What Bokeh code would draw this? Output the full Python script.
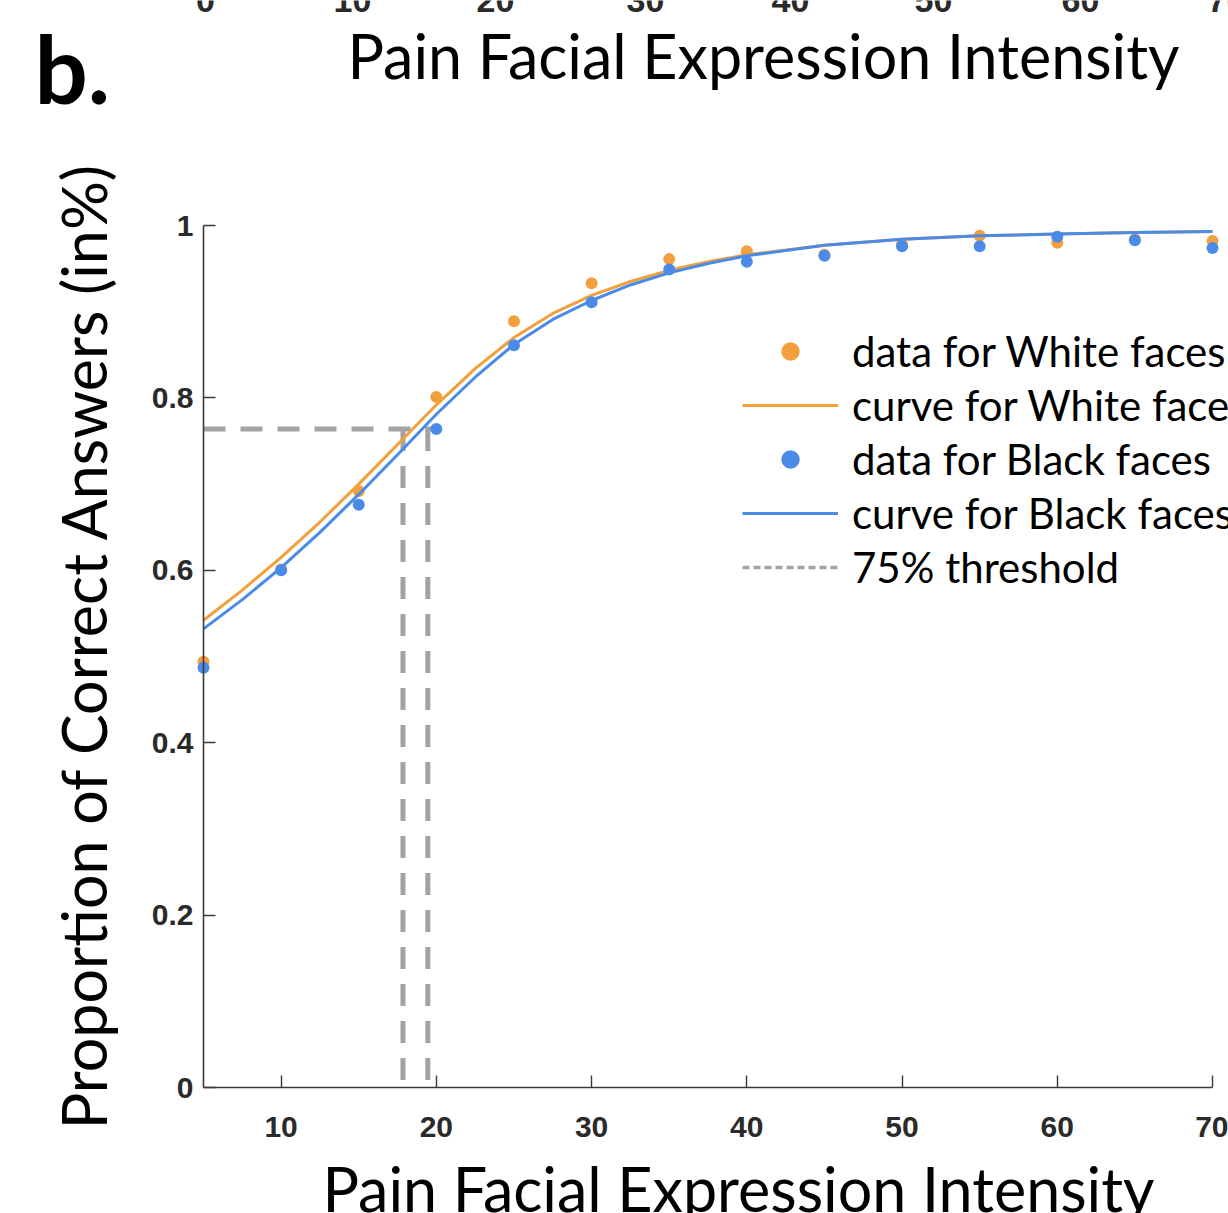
import math
from bokeh.plotting import figure
from bokeh.models import Range1d, FixedTicker, Legend, LegendItem, Label
from bokeh.embed import file_html
from bokeh.resources import INLINE

# ---------------- data ----------------
intensity = [5, 10, 15, 20, 25, 30, 35, 40, 45, 50, 55, 60, 65, 70]
white_data = [0.494, 0.601, 0.692, 0.801, 0.889, 0.933, 0.961, 0.970, 0.966, 0.978, 0.988, 0.980, 0.984, 0.982]
black_data = [0.487, 0.600, 0.676, 0.764, 0.861, 0.911, 0.949, 0.958, 0.965, 0.976, 0.976, 0.987, 0.983, 0.974]

curve_x = [5, 7.5, 10, 12.5, 15, 17.5, 20, 22.5, 25, 27.5, 30, 32.5, 35, 37.5, 40, 45, 50, 55, 60, 65, 70]
white_curve = [0.542, 0.577, 0.615, 0.656, 0.700, 0.746, 0.792, 0.834, 0.870, 0.898, 0.919, 0.935, 0.948,
               0.958, 0.966, 0.977, 0.984, 0.988, 0.990, 0.992, 0.993]
black_curve = [0.532, 0.566, 0.603, 0.644, 0.688, 0.734, 0.781, 0.824, 0.862, 0.891, 0.913, 0.931, 0.945,
               0.956, 0.965, 0.977, 0.984, 0.988, 0.990, 0.992, 0.993]

threshold_level = 0.764
thresholds = [17.85, 19.45]
threshold_h_end = 20.3

x_ticks = [10, 20, 30, 40, 50, 60, 70]
y_ticks = [0, 0.2, 0.4, 0.6, 0.8, 1]
y_tick_labels = {0: "0", 0.2: "0.2", 0.4: "0.4", 0.6: "0.6", 0.8: "0.8", 1: "1"}
prev_panel_ticks = ["0", "10", "20", "30", "40", "50", "60", "70"]

legend_labels = ["data for White faces", "curve for White faces",
                 "data for Black faces", "curve for Black faces", "75% threshold"]
title_text = "Pain Facial Expression Intensity"
x_label = "Pain Facial Expression Intensity"
y_label = "Proportion of Correct Answers (in%)"
panel_letter = "b."

# ---------------- style / layout ----------------
ORANGE = "#F2A03D"
BLUE = "#4A8BE8"
GRAY = "#A3A3A3"
AXIS = "#3a3a3a"
TEXT_FONT = "Lato"
TICK_FONT = "Liberation Sans"
# how far below the requested point the label baseline lands, as a fraction of font size
BASELINE_SHIFT = {TEXT_FONT: 0.387, TICK_FONT: 0.347}

W, H = 1228, 1213
AX_LEFT, AX_RIGHT = 203, 1212      # canvas px of x = 5 and x = 70
AX_BOTTOM, AX_TOP = 1087, 225      # canvas px of y = 0 and y = 1
X0, X1 = 5, 70
Y0, Y1 = 0, 1
px_x = (AX_RIGHT - AX_LEFT) / (X1 - X0)
px_y = (AX_BOTTOM - AX_TOP) / (Y1 - Y0)
x_range = Range1d(X0 - AX_LEFT / px_x, X1 + (W - AX_RIGHT) / px_x)
y_range = Range1d(Y0 - (H - AX_BOTTOM) / px_y, Y1 + AX_TOP / px_y)

p = figure(width=W, height=H, output_backend="svg", toolbar_location=None,
           x_range=x_range, y_range=y_range, min_border=0, title_location=None)
p.outline_line_color = None
p.background_fill_color = "white"
p.border_fill_color = "white"
p.xgrid.visible = False
p.ygrid.visible = False

xa, ya = p.xaxis[0], p.yaxis[0]
xa.fixed_location = Y0
ya.fixed_location = X0
xa.bounds = (X0, X1)
ya.bounds = (Y0, Y1)
for ax in (xa, ya):
    ax.axis_line_color = AXIS
    ax.axis_line_width = 1.6
    ax.major_tick_line_color = AXIS
    ax.major_tick_line_width = 1.4
    ax.major_tick_in = 12
    ax.major_tick_out = 0
    ax.minor_tick_line_color = None
    ax.major_label_text_font = TICK_FONT
    ax.major_label_text_font_style = "bold"
    ax.major_label_text_font_size = "30px"
    ax.major_label_text_color = "#2a2a2a"

xa.ticker = FixedTicker(ticks=x_ticks)
xa.major_label_standoff = 29
ya.ticker = FixedTicker(ticks=y_ticks)
ya.major_label_overrides = y_tick_labels
ya.major_label_standoff = 10

# threshold dashed lines
p.line([X0, threshold_h_end], [threshold_level, threshold_level], line_color=GRAY,
       line_width=5, line_dash="22 15")
for tx in thresholds:
    p.line([tx, tx], [threshold_level, Y0], line_color=GRAY, line_width=5, line_dash="22 15")

# curves and data
w_curve = p.line(curve_x, white_curve, line_color=ORANGE, line_width=3)
w_dots = p.scatter(intensity, white_data, size=12, fill_color=ORANGE, line_color=None)
b_curve = p.line(curve_x, black_curve, line_color=BLUE, line_width=3)
b_dots = p.scatter(intensity, black_data, size=12, fill_color=BLUE, line_color=None)

# legend-only sample of the threshold style (a single undefined point draws nothing)
thr_leg = p.line(x=[float("nan")], y=[float("nan")], line_color=GRAY, line_width=3.5,
                 line_dash="7 4")

legend = Legend(items=[
    LegendItem(label=legend_labels[0], renderers=[w_dots]),
    LegendItem(label=legend_labels[1], renderers=[w_curve]),
    LegendItem(label=legend_labels[2], renderers=[b_dots]),
    LegendItem(label=legend_labels[3], renderers=[b_curve]),
    LegendItem(label=legend_labels[4], renderers=[thr_leg]),
])
legend.location = (742, H - 592)
legend.glyph_width = 96
legend.glyph_height = 46
legend.label_height = 46
legend.spacing = 4
legend.padding = 0
legend.margin = 0
legend.label_standoff = 14
legend.label_text_font = TEXT_FONT
legend.label_text_font_size = "42px"
legend.label_text_color = "black"
legend.border_line_color = None
legend.background_fill_alpha = 0
p.add_layout(legend)


# texts, placed in screen units (frame == canvas; y measured upward from the bottom).
# (cx, cy) is the wanted baseline point in canvas pixels from the top-left corner.
def add_text(text, cx, cy, size_px, align="left", bold=False, rotated=False, font=TEXT_FONT,
             color="black"):
    shift = BASELINE_SHIFT[font] * size_px
    if rotated:
        x, y, angle = cx - shift, H - cy, math.pi / 2
    else:
        x, y, angle = cx, H - (cy - shift), 0.0
    p.add_layout(Label(x=x, y=y, x_units="screen", y_units="screen", text=text,
                       angle=angle, text_font=font, text_font_size=f"{size_px}px",
                       text_font_style="bold" if bold else "normal",
                       text_align=align, text_baseline="alphabetic", text_color=color))


prev_x = [205, 352, 495, 645, 790, 933, 1080, 1226]
for lab, cx in zip(prev_panel_ticks, prev_x):
    add_text(lab, cx, 12, 34, align="center", bold=True, font=TICK_FONT, color="#2a2a2a")
add_text(panel_letter, 34, 103, 94, bold=True)
add_text(title_text, 763, 79, 61, align="center")
add_text(x_label, 738, 1212, 61, align="center")
add_text(y_label, 107, 645, 61, align="center", rotated=True)

open("out.html", "w").write(file_html(p, INLINE))
